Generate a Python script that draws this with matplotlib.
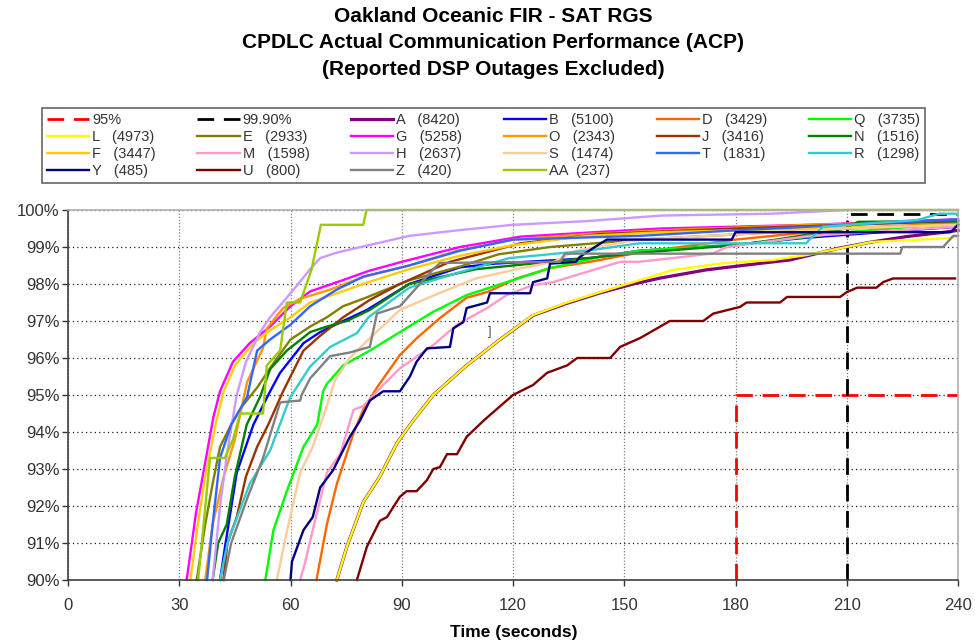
import matplotlib
matplotlib.use("Agg")
import matplotlib.pyplot as plt
from matplotlib.ticker import FuncFormatter, MultipleLocator

plt.rcParams['font.family'] = ['Liberation Sans', 'DejaVu Sans']

# series data: time (s) and cumulative percent
t_A = [72.5, 75.2, 79.6, 84.1, 88.7, 93, 98.5, 107.5, 116.5, 125.4, 134.6, 143.5, 152.4, 159.7, 172, 186, 194.7, 208, 217, 226, 238, 240]
p_A = [90, 90.9, 92.1, 92.8, 93.7, 94.3, 95.0, 95.8, 96.5, 97.15, 97.48, 97.76, 98.0, 98.16, 98.38, 98.55, 98.65, 98.97, 99.14, 99.28, 99.42, 99.45]
t_B = [41, 42.5, 45.5, 50, 54.5, 57.2, 63.5, 68, 74.2, 80.6, 92, 105.7, 115, 141, 154, 179, 199, 240]
p_B = [90, 91, 92.9, 94.2, 95.1, 95.6, 96.4, 96.7, 97.0, 97.3, 98.0, 98.45, 98.55, 98.7, 98.9, 99.05, 99.25, 99.55]
t_D = [67, 69.8, 72.5, 77, 79.6, 83.3, 89.5, 94, 100.3, 107.5, 113, 121, 130, 140.8, 154, 180, 210, 240]
p_D = [90, 91.5, 92.6, 93.97, 94.6, 95.2, 96.08, 96.53, 97.08, 97.63, 97.78, 98.15, 98.43, 98.6, 98.85, 99.2, 99.5, 99.65]
t_Q = [53.2, 55.4, 59, 63.5, 67.2, 68.8, 69.8, 74.2, 81.4, 89.5, 98.5, 107.5, 118.3, 130, 143.5, 154, 180, 210, 240]
p_Q = [90, 91.35, 92.4, 93.6, 94.2, 95.1, 95.3, 95.8, 96.2, 96.7, 97.25, 97.7, 98.05, 98.43, 98.73, 98.9, 99.05, 99.4, 99.65]
t_L = [72.5, 75.2, 79.6, 84.1, 88.7, 93, 98.5, 107.5, 116.5, 125.4, 134.6, 143.5, 152.4, 163.2, 176.6, 190, 199, 210, 217, 238, 240]
p_L = [90, 90.9, 92.1, 92.8, 93.7, 94.3, 95.0, 95.8, 96.5, 97.16, 97.5, 97.78, 98.05, 98.38, 98.56, 98.65, 98.78, 99.0, 99.14, 99.24, 99.3]
t_E = [34.7, 37, 39, 41, 44, 47, 51, 55, 60, 65.3, 69.8, 74.2, 79.6, 92, 105.7, 116, 130, 154, 210, 240]
p_E = [90, 91.5, 92.6, 93.6, 94.2, 94.7, 95.2, 95.8, 96.5, 96.85, 97.1, 97.4, 97.6, 98.1, 98.47, 98.8, 99.0, 99.2, 99.5, 99.6]
t_G = [32, 34.5, 36.5, 39.2, 41, 44.5, 49, 54.5, 60, 65.3, 74, 81, 90, 105.7, 122, 142, 160, 200, 240]
p_G = [90, 91.8, 92.9, 94.4, 95.1, 95.9, 96.4, 96.85, 97.4, 97.8, 98.1, 98.35, 98.6, 99.0, 99.28, 99.4, 99.5, 99.6, 99.75]
t_O = [37, 39, 42, 45, 48.3, 52.6, 53.6, 58, 62.6, 70.7, 80, 92, 105, 120, 140, 160, 200, 240]
p_O = [90, 91.5, 92.8, 93.8, 95.35, 96.27, 96.8, 97.35, 97.6, 97.85, 98.2, 98.5, 98.9, 99.2, 99.35, 99.45, 99.6, 99.7]
t_J = [41.9, 43, 45.5, 48, 51, 54, 58, 63.5, 68, 74.2, 81.4, 89.5, 103, 122, 143.5, 180, 240]
p_J = [90, 91, 91.7, 92.8, 93.6, 94.2, 95.1, 96.2, 96.6, 97.1, 97.57, 98.0, 98.6, 99.1, 99.35, 99.5, 99.7]
t_N = [39, 40.5, 42.8, 45, 48.2, 51.8, 54.5, 59, 65.3, 69.8, 75.2, 81.4, 92, 110, 130, 155, 180, 191, 210, 213, 240]
p_N = [90, 91, 91.5, 92.8, 94.2, 94.95, 95.7, 96.2, 96.7, 96.85, 97.0, 97.3, 98.0, 98.4, 98.6, 98.85, 99.05, 99.2, 99.5, 99.68, 99.7]
t_F = [33, 35, 37, 40, 42, 45, 50, 54.5, 60, 65.3, 74, 81, 92, 105, 120, 140, 160, 200, 240]
p_F = [90, 91.5, 92.8, 94.3, 95.1, 95.8, 96.4, 96.75, 97.1, 97.5, 97.8, 98.05, 98.4, 98.75, 99.05, 99.3, 99.4, 99.5, 99.6]
t_M = [62.6, 64, 66, 69.8, 73.4, 77, 79.6, 85, 89.5, 98.5, 104.9, 113, 118.3, 125.4, 130.8, 139, 149, 154, 163, 174, 177.7, 200, 240]
p_M = [90, 90.5, 91.35, 92.9, 93.4, 94.6, 94.7, 95.27, 95.72, 96.35, 96.9, 97.35, 97.7, 97.97, 98.05, 98.3, 98.6, 98.6, 98.7, 98.83, 99.0, 99.3, 99.55]
t_H = [39, 41, 43, 45.5, 48, 51.8, 54.5, 60, 65.3, 68, 72.5, 79, 92, 105, 120, 140, 160, 190, 210, 240]
p_H = [90, 92, 93.5, 95, 95.9, 96.7, 97.1, 97.75, 98.4, 98.7, 98.85, 99.0, 99.3, 99.45, 99.6, 99.7, 99.85, 99.9, 100, 100]
t_S = [56.3, 59, 62.6, 66, 69.8, 72, 76, 81, 89.5, 100, 110, 121, 131, 137, 154, 210, 240]
p_S = [90, 91.3, 92.9, 93.6, 94.7, 95.4, 96.0, 96.5, 97.3, 97.75, 98.15, 98.4, 98.6, 98.9, 99.2, 99.5, 99.6]
t_T = [37.5, 39, 41, 44, 48.3, 51, 54.5, 60, 65.3, 72.5, 79.6, 92, 105.7, 120, 154, 180, 210, 240]
p_T = [90, 91.5, 93.3, 94.2, 94.95, 96.2, 96.5, 96.9, 97.4, 97.85, 98.2, 98.5, 98.9, 99.2, 99.3, 99.45, 99.6, 99.75]
t_R = [41, 43, 46, 49, 54.5, 59, 60, 65.3, 70.7, 77.9, 81, 92, 105, 119, 140, 154, 199, 203.6, 229, 235, 240]
p_R = [90, 91, 91.8, 92.6, 93.5, 94.7, 94.95, 95.77, 96.3, 96.67, 97.1, 97.9, 98.3, 98.7, 98.9, 99.1, 99.1, 99.55, 99.73, 99.9, 99.9]
t_Y = [60, 60.4, 63.5, 66, 68, 71.5, 76, 78.7, 81.4, 85, 89.5, 92.2, 94, 96.8, 103, 103.9, 106.6, 107.5, 113, 113.8, 124.6, 125.4, 129.2, 130, 137, 138, 141.6, 145.3, 179, 180, 238, 240]
p_Y = [90, 90.5, 91.35, 91.7, 92.5, 92.97, 93.87, 94.3, 94.85, 95.1, 95.1, 95.5, 95.9, 96.26, 96.3, 96.8, 96.97, 97.35, 97.5, 97.75, 97.75, 98.05, 98.15, 98.55, 98.6, 98.73, 98.97, 99.2, 99.2, 99.4, 99.4, 99.6]
t_U = [77.9, 80.6, 84.1, 86, 89.5, 91.3, 94, 96.8, 98.5, 100.3, 102.2, 104.9, 107.5, 112, 113.8, 120, 125.4, 129.2, 134.6, 137.3, 146.2, 148.9, 154.3, 159.7, 162.3, 171.3, 174, 181.2, 183, 192, 193.9, 208.2, 210, 212.8, 218, 219.8, 222.5, 239.2]
p_U = [90, 90.9, 91.6, 91.7, 92.25, 92.4, 92.4, 92.7, 93.0, 93.05, 93.4, 93.4, 93.87, 94.3, 94.46, 95.0, 95.27, 95.6, 95.8, 96.0, 96.0, 96.3, 96.54, 96.85, 97.0, 97.0, 97.2, 97.38, 97.5, 97.5, 97.65, 97.65, 97.78, 97.9, 97.9, 98.05, 98.15, 98.15]
t_Z = [42, 44, 48.3, 52.6, 57.2, 62.6, 63, 65.3, 70.7, 76, 81.4, 83.3, 89.5, 98.5, 100.3, 132.7, 134, 224.4, 225, 236, 238.7, 240]
p_Z = [90, 91, 92.2, 93.3, 94.8, 94.85, 95.0, 95.45, 96.05, 96.15, 96.3, 97.2, 97.4, 98.4, 98.57, 98.6, 98.82, 98.82, 99.0, 99.0, 99.3, 99.3]
t_AA = [35.1, 38.3, 42.3, 44.5, 46.4, 52.6, 53.6, 57.2, 59, 62.6, 65.7, 68.2, 79.6, 80.5, 240]
p_AA = [90, 93.3, 93.3, 93.8, 94.5, 94.5, 95.8, 96.2, 97.5, 97.5, 98.4, 99.6, 99.6, 100, 100]

# reference lines
ref95_t = [180, 180, 240]
ref95_p = [90, 95, 95]
ref999_t = [210, 210, 240]
ref999_p = [90, 99.9, 99.9]

names = ['A', 'B', 'D', 'Q', 'L', 'E', 'G', 'O', 'J', 'N', 'F', 'M', 'H', 'S', 'T', 'R', 'Y', 'U', 'Z', 'AA']
counts = [8420, 5100, 3429, 3735, 4973, 2933, 5258, 2343, 3416, 1516, 3447, 1598, 2637, 1474, 1831, 1298, 485, 800, 420, 237]
series_t = [t_A, t_B, t_D, t_Q, t_L, t_E, t_G, t_O, t_J, t_N, t_F, t_M, t_H, t_S, t_T, t_R, t_Y, t_U, t_Z, t_AA]
series_p = [p_A, p_B, p_D, p_Q, p_L, p_E, p_G, p_O, p_J, p_N, p_F, p_M, p_H, p_S, p_T, p_R, p_Y, p_U, p_Z, p_AA]
colors = ['#800080', '#0000FF', '#FF6600', '#00FF00', '#FFFF00', '#808000', '#FF00FF', '#FF9900',
          '#993300', '#008000', '#FFCC00', '#FF99CC', '#CC99FF', '#FFCC99', '#3366FF', '#33CCCC',
          '#000080', '#800000', '#808080', '#99CC00']

fig = plt.figure(figsize=(9.75, 6.42), dpi=100)
ax = fig.add_axes([68/975, 1-580/642, 890/975, 370/642])

handles = {}
handles['95%'], = ax.plot(ref95_t, ref95_p, color='#FF0000', lw=2, dashes=(6, 3.5), clip_on=False)
handles['99.90%'], = ax.plot(ref999_t, ref999_p, color='#000000', lw=2, dashes=(6, 3.5), clip_on=False)
for n, c, t, p, col in zip(names, counts, series_t, series_p, colors):
    lw = 2.3 if n == 'A' else 1.7
    gap = '  ' if len(n) > 1 else '   '
    lab = f'{n}{gap}({c})'
    handles[n], = ax.plot(t, p, color=col, lw=lw, label=lab, clip_on=False)

ax.text(113.8, 96.7, ']', fontsize=9, color='#555555', ha='center', va='center')

ax.set_xlim(0, 240)
ax.set_ylim(90, 100)
ax.xaxis.set_major_locator(MultipleLocator(30))
ax.yaxis.set_major_locator(MultipleLocator(1))
ax.yaxis.set_major_formatter(FuncFormatter(lambda v, pos: f'{v:.0f}%'))
ax.tick_params(labelsize=12, colors='#333333', direction='out', length=4, width=1)
ax.tick_params(axis='x', pad=9)
ax.tick_params(axis='y', pad=2)
ax.xaxis.grid(True, color='#808080', linestyle=(0, (1, 1.5)), lw=0.9)
ax.yaxis.grid(True, color='#202020', linestyle=(0, (1, 2.5)), lw=0.9)
ax.set_axisbelow(True)
for s in ['left', 'bottom']:
    ax.spines[s].set_color('#404040')
    ax.spines[s].set_linewidth(1.2)
for s in ['top', 'right']:
    ax.spines[s].set_color('#B0B0B0')
    ax.spines[s].set_linewidth(1.2)

# legend in column-major order so that rows read like the original
order = ['95%', 'L', 'F', 'Y', '99.90%', 'E', 'M', 'U', 'A', 'G', 'H', 'Z',
         'B', 'O', 'S', 'AA', 'D', 'J', 'T', 'Q', 'N', 'R']
labels = []
for k in order:
    labels.append(k if k in ('95%', '99.90%') else handles[k].get_label())
leg = fig.legend([handles[k] for k in order], labels, ncol=6, loc='lower left',
                 bbox_to_anchor=(42/975, 1-183/642, 883/975, 77/642), mode='expand',
                 fontsize=10.5, frameon=True, fancybox=False, edgecolor='#404040',
                 handlelength=2.9, handletextpad=0.2, labelspacing=0.2,
                 borderaxespad=0, borderpad=0.35, columnspacing=1.0)
leg._legend_box.align = 'left'
leg.get_frame().set_linewidth(1.2)
for txt in leg.get_texts():
    txt.set_color('#333333')

fig.text(493/975, 1-7/642, 'Oakland Oceanic FIR - SAT RGS\nCPDLC Actual Communication Performance (ACP)\n(Reported DSP Outages Excluded)',
         ha='center', va='top', fontsize=15, fontweight='bold', linespacing=1.5)
fig.text(514/975, 1-633/642, 'Time (seconds)', ha='center', va='center', fontsize=12.5, fontweight='bold')

fig.savefig('out.png', dpi=100)
